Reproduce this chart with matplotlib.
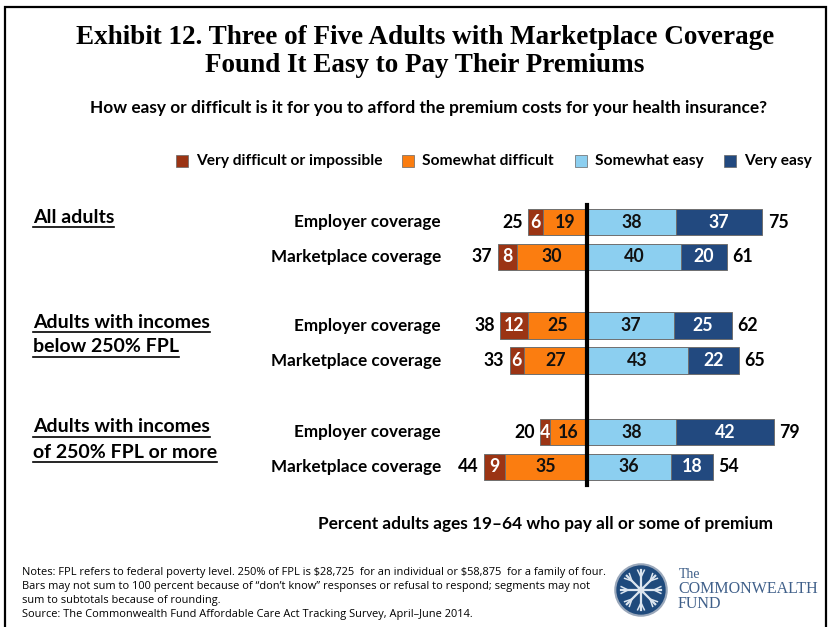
import matplotlib
matplotlib.use("Agg")
import matplotlib.pyplot as plt
from matplotlib.patches import Rectangle, Circle
from matplotlib.lines import Line2D
import numpy as np

W, H = 835, 627

groups = ["All adults", "Adults with incomes\nbelow 250% FPL", "Adults with incomes\nof 250% FPL or more"]
rows = ["Employer coverage", "Marketplace coverage"] * 3
very_difficult = [6, 8, 12, 6, 4, 9]
somewhat_difficult = [19, 30, 25, 27, 16, 35]
somewhat_easy = [38, 40, 37, 43, 38, 36]
very_easy = [37, 20, 25, 22, 42, 18]
difficult_total = [25, 37, 38, 33, 20, 44]
easy_total = [75, 61, 62, 65, 79, 54]

legend_labels = ["Very difficult or impossible", "Somewhat difficult", "Somewhat easy", "Very easy"]
colors = ["#9b3414", "#fb7d10", "#8ccff0", "#22497f"]
label_colors = ["white", "#111111", "#111111", "white"]

SANS = ["Lato", "DejaVu Sans"]
plt.rcParams["font.family"] = SANS

fig = plt.figure(figsize=(W / 100, H / 100), dpi=100)


def fx(px):
    return px / W


def fy(py):
    return 1 - py / H


# frame around the slide
fig.patches.append(Rectangle((fx(5), fy(640)), fx(826) - fx(5), fy(7) - fy(640),
                             transform=fig.transFigure, fill=False, ec="black", lw=1.6))

# titles
fig.text(fx(425), fy(38), "Exhibit 12. Three of Five Adults with Marketplace Coverage",
         ha="center", va="center", family="Liberation Serif", weight="bold", size=19.5)
fig.text(fx(425), fy(65), "Found It Easy to Pay Their Premiums",
         ha="center", va="center", family="Liberation Serif", weight="bold", size=19.5)
fig.text(fx(428), fy(108), "How easy or difficult is it for you to afford the premium costs for your health insurance?",
         ha="center", va="center", weight="bold", size=12.4)

# legend
leg_x = [182, 408, 581, 730]
for lx, lab, c in zip(leg_x, legend_labels, colors):
    fig.patches.append(Rectangle((fx(lx - 6), fy(167)), fx(12), fy(155) - fy(167),
                                 transform=fig.transFigure, fc=c, ec="#666666", lw=0.5))
    fig.text(fx(lx + 14), fy(161), lab, ha="left", va="center", weight="bold", size=11.2)

# bar axes: zero at x=587 px, 2.34 px per percent; rows 35 px apart
x0, scale = 587, 2.34
ax = fig.add_axes([0, fy(490), 1, fy(200) - fy(490)])
ax.set_xlim(-x0 / scale, (W - x0) / scale)
ax.set_ylim((490 - 222) / 35, (200 - 222) / 35)
ax.axis("off")

ypos = np.array([0, 1, 2.97, 3.97, 6.0, 7.0])
bh = 0.77

vd = np.array(very_difficult)
sd = np.array(somewhat_difficult)
se = np.array(somewhat_easy)
ve = np.array(very_easy)

segs = [(-(vd + sd), vd), (-sd, sd), (np.zeros(6), se), (se, ve)]
for (left, width), c, tc in zip(segs, colors, label_colors):
    ax.barh(ypos, width, left=left, height=bh, color=c, edgecolor="#6f6f6f", lw=0.7, zorder=2)
    for y, l, w in zip(ypos, left, width):
        ax.text(l + w / 2, y, str(w), ha="center", va="center", color=tc,
                weight="bold", size=12.8, zorder=3)

for y, l, t in zip(ypos, -(vd + sd), difficult_total):
    ax.text(l - 2.4, y, str(t), ha="right", va="center", weight="bold", size=12.8)
for y, r, t in zip(ypos, se + ve, easy_total):
    ax.text(r + 2.2, y, str(t), ha="left", va="center", weight="bold", size=12.8)

for y, lab in zip(ypos, rows):
    ax.text((441 - x0) / scale, y, lab, ha="right", va="center", weight="bold", size=12.3)

ax.plot([0, 0], [(205 - 222) / 35, (485 - 222) / 35], color="black", lw=3, zorder=4)

# group headings, underlined
group_y = [217, 322, 427]
heads = []
for gy, g in zip(group_y, groups):
    for i, line in enumerate(g.split("\n")):
        t = fig.text(fx(33), fy(gy + i * 25), line, ha="left", va="center",
                     weight="bold", size=14)
        heads.append((t, gy + i * 25))

fig.text(fx(546), fy(524), "Percent adults ages 19\u201364 who pay all or some of premium",
         ha="center", va="center", weight="bold", size=12.4)

notes = [
    "Notes: FPL refers to federal poverty level. 250% of FPL is \\$28,725  for an individual or \\$58,875  for a family of four.",
    "Bars may not sum to 100 percent because of \u201cdon\u2019t know\u201d responses or refusal to respond; segments may not",
    "sum to subtotals because of rounding.",
    "Source: The Commonwealth Fund Affordable Care Act Tracking Survey, April\u2013June 2014.",
]
for i, n in enumerate(notes):
    fig.text(fx(22), fy(573 + i * 13.7), n, ha="left", va="center", size=7.9,
             family=["Open Sans", "DejaVu Sans"])

# logo
lax = fig.add_axes([fx(614), fy(617), fx(54), fy(563) - fy(617)])
lax.set_xlim(-1.05, 1.05)
lax.set_ylim(-1.05, 1.05)
lax.set_aspect("equal")
lax.axis("off")
lax.add_patch(Circle((0, 0), 1.0, fc="#1f4a7c", ec="#9aa8bb", lw=1.5))
for a in np.linspace(0, 2 * np.pi, 8, endpoint=False):
    lax.plot([0.12 * np.cos(a), 0.78 * np.cos(a)], [0.12 * np.sin(a), 0.78 * np.sin(a)],
             color="#dde6f0", lw=1.6)
    for s in (-0.45, 0.45):
        lax.plot([0.5 * np.cos(a), 0.5 * np.cos(a) + 0.3 * np.cos(a + s)],
                 [0.5 * np.sin(a), 0.5 * np.sin(a) + 0.3 * np.sin(a + s)],
                 color="#dde6f0", lw=1.1)
lax.add_patch(Circle((0, 0), 0.14, fc="#dde6f0", ec="none"))

brand = "#40608a"
fig.text(fx(679), fy(575), "The", ha="left", va="center", family="Liberation Serif", size=10, color=brand)
fig.text(fx(678), fy(589), "COMMONWEALTH", ha="left", va="center", family="Liberation Serif", size=11.5, color=brand)
fig.text(fx(678), fy(604), "FUND", ha="left", va="center", family="Liberation Serif", size=11.5, color=brand)

fig.canvas.draw()
rend = fig.canvas.get_renderer()
for t, py in heads:
    bb = t.get_window_extent(rend)
    x1, x2 = bb.x0 / W, bb.x1 / W
    fig.lines.append(Line2D([x1, x2], [fy(py + 10)] * 2, transform=fig.transFigure,
                            color="black", lw=1.2))

fig.savefig("out.png", dpi=100, facecolor="white")
